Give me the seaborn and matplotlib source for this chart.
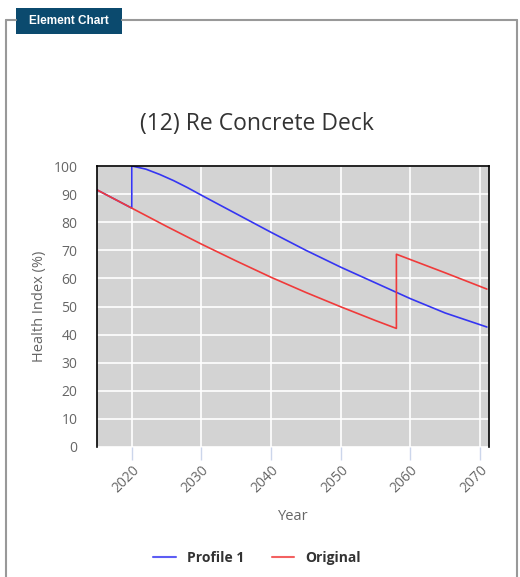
import pandas as pd
import matplotlib.pyplot as plt
import seaborn as sns
from matplotlib.lines import Line2D
from matplotlib.patches import Rectangle

# Values
profile_years = [2015, 2020, 2020, 2022, 2024, 2026, 2028, 2030, 2035, 2040, 2045,
                 2050, 2055, 2060, 2065, 2071]
profile_health = [91.5, 85, 100, 98.9, 97.0, 94.8, 92.3, 89.6, 83.0, 76.4, 70.0,
                  64.0, 58.4, 52.8, 47.7, 42.7]

original_years = [2015, 2020, 2025, 2030, 2035, 2040, 2045, 2050, 2055, 2058, 2058, 2065, 2071]
original_health = [91.5, 85, 78.5, 72.2, 66.2, 60.4, 55.0, 49.9, 45.0, 42.2, 68.6, 62.0, 56.2]

series_names = ["Profile 1", "Original"]
series_colors = ["#3535f2", "#f03a3a"]
x_ticks = [2020, 2030, 2040, 2050, 2060, 2070]
y_ticks = list(range(0, 101, 10))

df = pd.concat([
    pd.DataFrame({"Year": profile_years, "Health": profile_health, "Series": series_names[0]}),
    pd.DataFrame({"Year": original_years, "Health": original_health, "Series": series_names[1]}),
])

sns.set_style("white")
plt.rcParams["font.family"] = ["Open Sans", "DejaVu Sans"]

fig = plt.figure(figsize=(5.2, 5.77), dpi=100)
W, H = 520, 577
ax = fig.add_axes([97 / W, 1 - 447 / H, (489 - 97) / W, (447 - 166) / H])

sns.lineplot(data=df, x="Year", y="Health", hue="Series", palette=series_colors,
             sort=False, estimator=None, linewidth=1.2, legend=False, ax=ax)

ax.set_facecolor("#d3d3d3")
ax.set_xlim(2015, 2071.3)
ax.set_ylim(0, 100)
ax.set_xticks(x_ticks)
ax.set_yticks(y_ticks)
ax.grid(True, color="white", linewidth=1.2)
ax.set_axisbelow(True)
for side in ["left", "right", "top"]:
    ax.spines[side].set_color("black")
    ax.spines[side].set_linewidth(1.2)
ax.spines["bottom"].set_visible(False)

ax.tick_params(axis="x", length=9, width=1, color="#ccd6eb", labelcolor="#666666",
               labelsize=10, pad=2, bottom=True)
ax.tick_params(axis="y", length=0, labelcolor="#666666", labelsize=10, pad=14)
for lbl in ax.get_xticklabels():
    lbl.set_rotation(45)
    lbl.set_ha("right")
    lbl.set_rotation_mode("anchor")

ax.set_xlabel("Year", color="#666666", fontsize=10.5, labelpad=10)
ax.set_ylabel("Health Index (%)", color="#666666", fontsize=10.5, labelpad=5)

fig.text(257 / W, 1 - 124 / H, "(12) Re Concrete Deck", ha="center", va="center",
         fontsize=16.5, color="#333333")

# legend
handles = [Line2D([0], [0], color=c, lw=1.5, alpha=0.8) for c in series_colors]
leg = fig.legend(handles, series_names, loc="center", bbox_to_anchor=(257 / W, 1 - 558 / H),
                 ncol=2, frameon=False, handlelength=1.6, columnspacing=2.0,
                 prop={"weight": "bold", "size": 10})
for t in leg.get_texts():
    t.set_color("#333333")

# fieldset frame
border = "#999999"
fy = 1 - 20 / H
fig.add_artist(Line2D([6 / W, 6 / W], [0, fy], color=border, lw=1.5))
fig.add_artist(Line2D([517 / W, 517 / W], [0, fy], color=border, lw=1.5))
fig.add_artist(Line2D([6 / W, 16 / W], [fy, fy], color=border, lw=1.5))
fig.add_artist(Line2D([122 / W, 517 / W], [fy, fy], color=border, lw=1.5))
fig.add_artist(Rectangle((16 / W, 1 - 34 / H), (122 - 16) / W, 26 / H,
                         facecolor="#0b4a6e", edgecolor="none"))
fig.text(69 / W, 1 - 21 / H, "Element Chart", ha="center", va="center",
         fontsize=8.5, color="white", weight="bold", family=["Liberation Sans", "DejaVu Sans"])

fig.savefig("out.png", dpi=100)
